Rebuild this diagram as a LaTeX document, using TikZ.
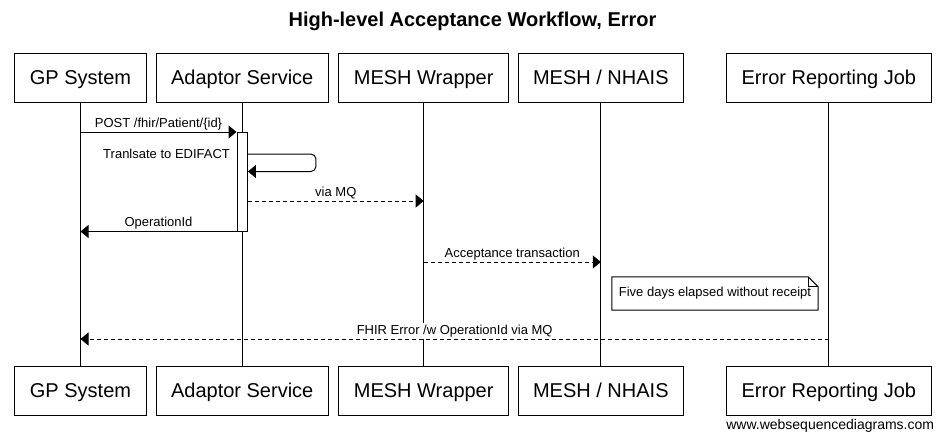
\documentclass[tikz,border=0pt]{standalone}
\usepackage{fontspec}
\setmainfont{Liberation Sans}
\usetikzlibrary{arrows.meta, positioning}

\begin{document}
\begin{tikzpicture}[
  x=1pt, y=-1pt,
  node distance=10pt,
  actor/.style={draw, line width=1pt, inner xsep=15pt, minimum height=49pt, text height=14.5pt, text depth=0pt, font=\fontsize{20}{24}\selectfont},
  life/.style={line width=1pt},
  act/.style={draw, fill=white, line width=1pt, minimum width=10.4pt, minimum height=99pt, inner sep=0pt},
  lbl/.style={fill=white, inner sep=1.5pt, text depth=3pt, font=\fontsize{13}{15}\selectfont},
  msg/.style={-{Triangle[length=8pt, width=13pt]}, line width=1pt},
  dsh/.style={msg, dash pattern=on 4pt off 3pt},
  note/.style={fill=white, minimum width=206pt, minimum height=33pt, inner sep=0pt, font=\fontsize{13}{15}\selectfont},
]
\useasboundingbox (0,0) rectangle (945,439);

% Title
\node[font=\bfseries\fontsize{20}{24}\selectfont, anchor=base] (title) at (472.5,27) {High-level Acceptance Workflow, Error};

% Participants
\node[actor] (gpTop) at (80.5,77.5) {GP System};
\node[actor, right=9pt of gpTop] (adTop) {Adaptor Service};
\node[actor, right=9.5pt of adTop] (mwTop) {MESH Wrapper};
\node[actor, right=8.5pt of mwTop] (nhTop) {MESH / NHAIS};
\node[actor, right=42pt of nhTop] (erTop) {Error Reporting Job};

\node[actor, below=263pt of gpTop] (gpBot) {GP System};
\node[actor, below=263pt of adTop] (adBot) {Adaptor Service};
\node[actor, below=263pt of mwTop] (mwBot) {MESH Wrapper};
\node[actor, below=263pt of nhTop] (nhBot) {MESH / NHAIS};
\node[actor, below=263pt of erTop] (erBot) {Error Reporting Job};

\node[anchor=base west, inner sep=0pt, font=\fontsize{14}{16}\selectfont] (wsd) at ([yshift=-14pt]erBot.south west) {www.websequencediagrams.com};

% Lifelines
\draw[life] (gpTop) -- (gpBot);
\draw[life] (adTop) -- (adBot);
\draw[life] (mwTop) -- (mwBot);
\draw[life] (nhTop) -- (nhBot);
\draw[life] (erTop) -- (erBot);

% Time steps
\coordinate (t1) at (0,132);
\coordinate (t2) at (0,154);
\coordinate (t2b) at (0,171.5);
\coordinate (t3) at (0,201);
\coordinate (tAct) at (0,181.5);
\coordinate (t5) at (0,262);
\coordinate (t6) at (0,339);

\node[act] (act) at (adTop |- tAct) {};

% Messages
\draw[msg] (gpTop |- t1) -- node[lbl, above] {POST /fhir/Patient/\{id\}} (act.west |- t1);
\draw[msg, rounded corners=5pt] (act.east |- t2)
  node[lbl, anchor=base east, xshift=-16pt, yshift=-4pt] {Tranlsate to EDIFACT}
  -- ++(68,0) -- ++(0,17.5) -- (act.east |- t2b);
\draw[dsh] (act.east |- t3) -- node[lbl, above] {via MQ} (mwTop |- t3);
\draw[msg] (act.south west) -- node[lbl, above] {OperationId} (gpTop |- act.south);
\draw[dsh] (mwTop |- t5) -- node[lbl, above] {Acceptance transaction} (nhTop |- t5);

% Note
\node[note] (fiveDays) at (715,293.5) {Five days elapsed without receipt};
\draw[line width=1pt, line join=miter] (fiveDays.north west) -- ([xshift=-10pt]fiveDays.north east)
  -- ([yshift=-10pt]fiveDays.north east) -- (fiveDays.south east) -- (fiveDays.south west) -- cycle;
\draw[line width=1pt] ([xshift=-10pt]fiveDays.north east) -- ([xshift=-10pt, yshift=-10pt]fiveDays.north east)
  -- ([yshift=-10pt]fiveDays.north east);

\draw[dsh] (erTop |- t6) -- node[lbl, above] {FHIR Error /w OperationId via MQ} (gpTop |- t6);

\end{tikzpicture}
\end{document}
